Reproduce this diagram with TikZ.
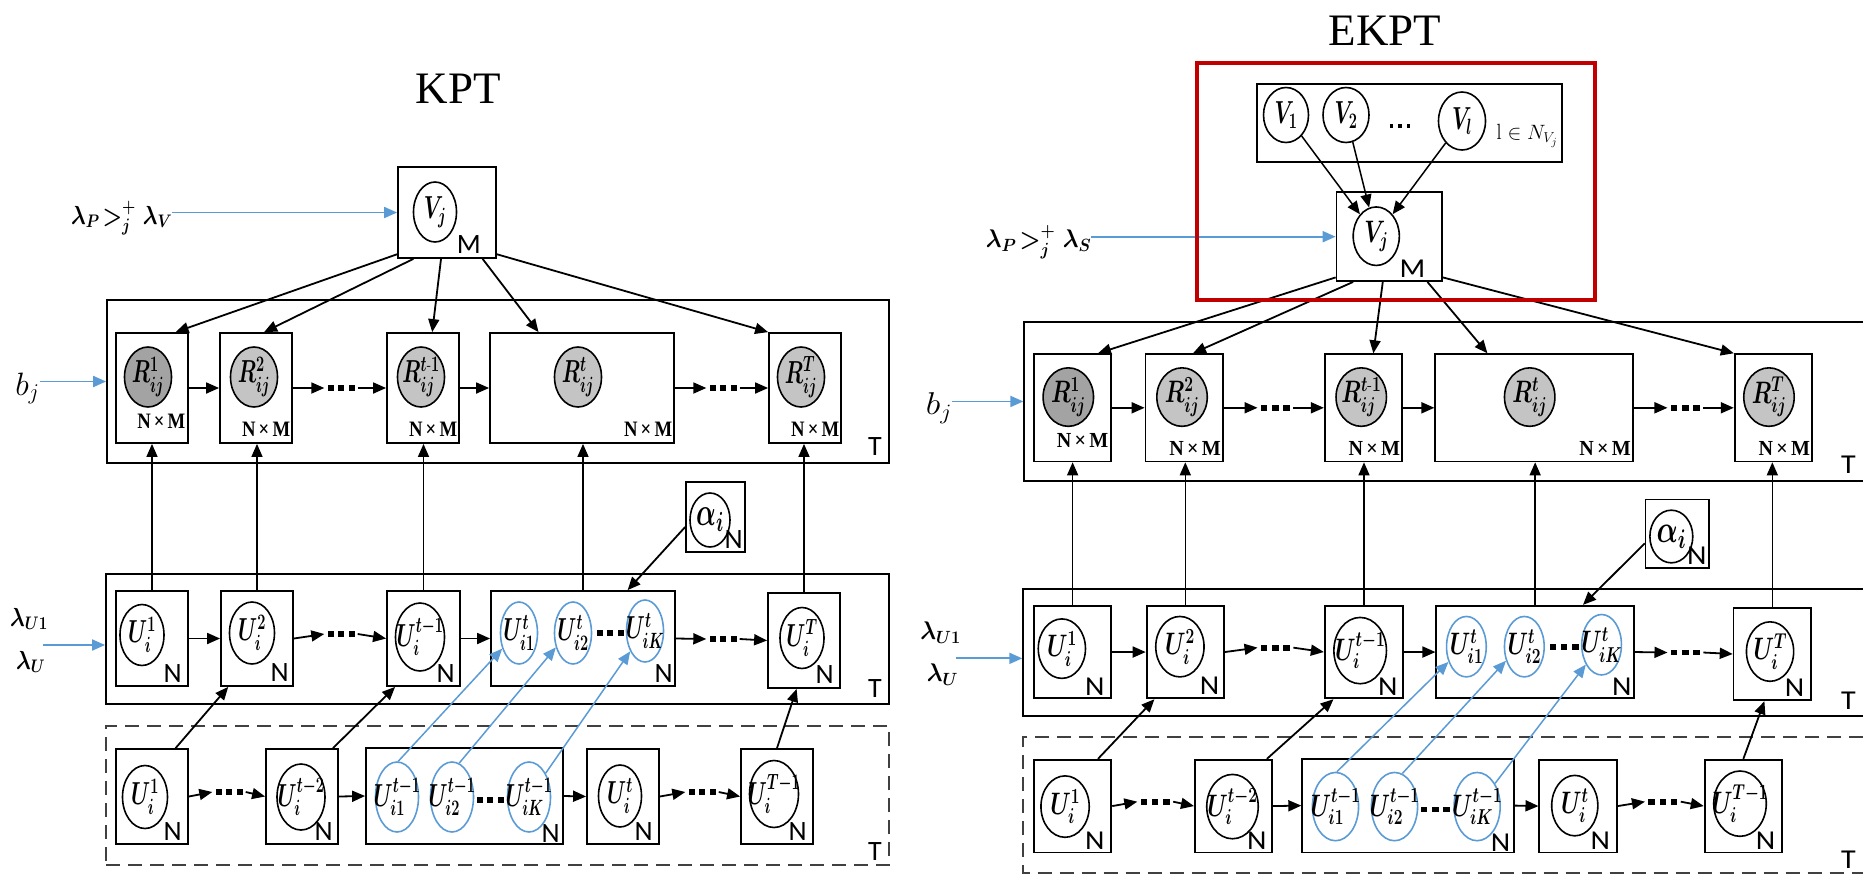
\documentclass[tikz,border=0pt]{standalone}
\usepackage{amsmath}
\usepackage{graphicx}
\usepackage{fontspec}
\usetikzlibrary{arrows.meta,shapes.geometric,calc}
\newfontfamily\lblfont{Carlito}
\newfontfamily\ttlfont{Liberation Serif}
\definecolor{myblue}{HTML}{5B9BD5}
\definecolor{mygrayA}{HTML}{A3A3A3}
\definecolor{mygrayB}{HTML}{C4C4C4}
\definecolor{myred}{HTML}{C00000}
\definecolor{dashgray}{HTML}{404040}
\newcommand\sqd{\rule{6pt}{6pt}}
\newcommand\dotrow{\sqd\hspace{4.5pt}\sqd\hspace{4.5pt}\sqd}
\newcommand\rdot{\rule{3.5pt}{3.5pt}}
\newcommand\thindots{\rdot\hspace{5pt}\rdot\hspace{5pt}\rdot}
\tikzset{
  box/.style={draw, line width=1.8pt, inner sep=0pt},
  ev/.style={ellipse, draw, line width=1.6pt, inner sep=0pt},
  bev/.style={ev, draw=myblue},
  gevA/.style={ev, fill=mygrayA},
  gevB/.style={ev, fill=mygrayB},
  tx/.style={inner sep=0pt, xscale=0.84, yscale=1.28, font=\fontsize{24}{26}\selectfont\boldmath},
  sl/.style={inner sep=0pt, font=\lblfont\fontsize{28}{30}\selectfont},
  nm/.style={inner sep=0pt, xscale=0.85, font=\ttlfont\bfseries\fontsize{22}{24}\selectfont},
  lam/.style={inner sep=0pt, xscale=0.88, yscale=1.05, font=\fontsize{24.5}{27}\selectfont\boldmath},
  bjl/.style={inner sep=0pt, scale=1.3, font=\fontsize{24}{26}\selectfont},
  dts/.style={inner sep=3pt},
  arr/.style={-{Triangle[length=13pt,width=11pt]}, line width=1.8pt},
  tarr/.style={-{Triangle[length=13pt,width=11pt]}, line width=1.4pt},
  barr/.style={-{Triangle[length=13pt,width=11pt]}, line width=1.9pt, draw=myblue},
  ttl/.style={inner sep=0pt, anchor=base, font=\ttlfont\fontsize{45}{48}\selectfont},
}
\newcommand\Bx[4]{\node[box, minimum width=#3pt, minimum height=#4pt] (#1) at (#2) {};}
\newcommand\Ev[6][ev]{\node[#1, minimum width=#4pt, minimum height=#5pt] (#2) at (#3) {};\node[tx] (#2-t) at (#2) {#6};}
\newcommand\Nl[3]{\node[sl, anchor=base east, xshift=#2pt, yshift=#3pt] (#1-N) at (#1.south east) {N};}
\newcommand\panel[1]{%
  % ---- V_j
  \Bx{Vjb}{447,212.5}{98}{91}
  \Ev{Vj}{435,212}{43}{60}{$V_j$}
  \node[sl, anchor=base east, xshift=-16pt, yshift=5pt] (Vjb-M) at (Vjb.south east) {M};
  \node[lam, anchor=base west] (lamV) at (71,224) {$\lambda_P\!>_j^{+}\lambda_{#1}$};
  \draw[barr] (lamV.east |- Vjb.west) -- (Vjb.west);
  % ---- R plate
  \Bx{Rp}{498,381.5}{782}{163}
  \node[sl, anchor=base east, xshift=-8pt, yshift=8pt] (Rp-T) at (Rp.south east) {T};
  \Bx{R1b}{152,388}{72}{110}
  \Bx{R2b}{256,388}{72}{110}
  \Bx{R3b}{423,388}{72}{110}
  \Bx{R4b}{582,388}{184}{110}
  \Bx{R5b}{805,388}{72}{110}
  \Ev[gevA]{R1}{148,377}{47}{60}{$R^1_{ij}$}
  \Ev[gevB]{R2}{254,377}{47}{60}{$R^2_{ij}$}
  \Ev[gevB]{R3}{421,377}{47}{60}{$R^{t\text{-}1}_{ij}$}
  \Ev[gevB]{R4}{578,377}{47}{60}{$R^{t}_{ij}$}
  \Ev[gevB]{R5}{801,377}{47}{60}{$R^{T}_{ij}$}
  \node[nm, anchor=base east, xshift=-4pt, yshift=15pt] (R1b-nm) at (R1b.south east) {N\,×\,M};
  \node[nm, anchor=base east, xshift=-3pt, yshift=7pt] (R2b-nm) at (R2b.south east) {N\,×\,M};
  \node[nm, anchor=base east, xshift=-3pt, yshift=7pt] (R3b-nm) at (R3b.south east) {N\,×\,M};
  \node[nm, anchor=base east, xshift=-3pt, yshift=7pt] (R4b-nm) at (R4b.south east) {N\,×\,M};
  \node[nm, anchor=base east, xshift=-3pt, yshift=7pt] (R5b-nm) at (R5b.south east) {N\,×\,M};
  \node[dts] (d1) at (341,388) {\dotrow};
  \node[dts] (d2) at (723,388) {\dotrow};
  \draw[arr] (R1b.east) -- (R2b.west);
  \draw[arr] (R2b.east) -- (d1.west);
  \draw[arr] (d1.east) -- (R3b.west);
  \draw[arr] (R3b.east) -- (R4b.west);
  \draw[arr] (R4b.east) -- (d2.west);
  \draw[arr] (d2.east) -- (R5b.west);
  \draw[arr] ($(Vjb.south west)!0.05!(Vjb.north west)$) -- ($(R1b.north west)!0.82!(R1b.north east)$);
  \draw[arr] ($(Vjb.south west)!0.163!(Vjb.south east)$) -- ($(R2b.north west)!0.61!(R2b.north east)$);
  \draw[arr] ($(Vjb.south west)!0.44!(Vjb.south east)$) -- ($(R3b.north west)!0.625!(R3b.north east)$);
  \draw[arr] ($(Vjb.south west)!0.857!(Vjb.south east)$) -- ($(R4b.north west)!0.266!(R4b.north east)$);
  \draw[arr] ($(Vjb.south east)!0.05!(Vjb.north east)$) -- (R5b.north west);
  \node[bjl, anchor=base west] (bj) at (15,395) {$b_j$};
  \draw[barr] (bj.east |- Rp.west) -- (Rp.west);
  % ---- alpha
  \Bx{ab}{715.5,517}{59}{70}
  \Ev{al}{710,520}{40}{54}{\scalebox{1.25}{$\alpha_i$}}
  \Nl{ab}{-3}{4}
  % ---- U plate
  \Bx{Up}{497.5,639}{783}{130}
  \node[sl, anchor=base east, xshift=-8pt, yshift=7pt] (Up-T) at (Up.south east) {T};
  \Bx{U1b}{152,638.5}{72}{95}
  \Bx{U2b}{257,638.5}{72}{95}
  \Bx{U3b}{423.5,638.5}{73}{95}
  \Bx{U4b}{583,638.5}{184}{95}
  \Bx{U5b}{804,640.5}{72}{95}
  \Ev{U1}{142,635}{44}{61}{$U^1_i$}
  \Ev{U2}{252,633}{45}{62}{$U^2_i$}
  \Ev{U3}{420,637}{49}{68}{$U^{t-1}_i$}
  \Ev[bev]{a1}{519,633}{37}{62}{$U^t_{i1}$}
  \Ev[bev]{a2}{573,633}{37}{62}{$U^t_{i2}$}
  \Ev[bev]{aK}{645,631}{37}{62}{$U^t_{iK}$}
  \node[dts] (d5) at (610,633) {\dotrow};
  \Ev{U5}{802,638}{44}{61}{$U^T_i$}
  \Nl{U1b}{-7}{4}
  \Nl{U2b}{-5}{5}
  \Nl{U3b}{-6}{4}
  \Nl{U4b}{-3}{4}
  \Nl{U5b}{-7}{5}
  \node[dts] (d3) at (341,634) {\dotrow};
  \node[dts] (d4) at (723,639) {\dotrow};
  \draw[arr] (U1b.east) -- (U2b.west);
  \draw[arr] (U2b.east) -- (d3.west);
  \draw[arr] (d3.east) -- (U3b.west);
  \draw[arr] (U3b.east) -- (U4b.west);
  \draw[arr] (U4b.east) -- (d4.west);
  \draw[arr] (d4.east) -- (U5b.west);
  \node[lam, anchor=base west] (lamU1) at (10,626) {$\lambda_{U1}$};
  \node[lam, anchor=base west] (lamU) at (16,669) {$\lambda_{U}$};
  \coordinate (lamUa) at (43,645);
  \draw[barr] (lamUa) -- (lamUa -| Up.west);
  \draw[tarr] (U1b.north) -- (U1b.north |- R1b.south);
  \draw[tarr] (U2b.north) -- (U2b.north |- R2b.south);
  \draw[tarr] (U3b.north) -- (U3b.north |- R3b.south);
  \draw[tarr] (U4b.north) -- (U4b.north |- R4b.south);
  \draw[tarr] (U5b.north) -- (U5b.north |- R5b.south);
  \draw[arr] ($(ab.north west)!0.64!(ab.south west)$) -- ($(U4b.north west)!0.74!(U4b.north east)$);
  % ---- dashed plate
  \node[draw=dashgray, line width=1.8pt, inner sep=0pt, dash pattern=on 14pt off 8pt, minimum width=783pt, minimum height=139pt] (Dp) at (497.5,795.5) {};
  \node[sl, anchor=base east, xshift=-8pt, yshift=5pt] (Dp-T) at (Dp.south east) {T};
  \Bx{B1b}{152,796.5}{72}{95}
  \Bx{B2b}{302,796.5}{72}{95}
  \Bx{B3b}{464.5,796}{197}{96}
  \Bx{B4b}{623,796.5}{72}{95}
  \Bx{B5b}{777,796.5}{72}{95}
  \Ev{B1}{145,797}{45}{63}{$U^1_i$}
  \Ev{B2}{301,797}{48}{66}{$U^{t-2}_i$}
  \Ev[bev]{b1}{397,797}{43}{70}{$U^{t-1}_{i1}$}
  \Ev[bev]{b2}{452,797}{43}{70}{$U^{t-1}_{i2}$}
  \Ev[bev]{bK}{529,797}{43}{70}{$U^{t-1}_{iK}$}
  \node[dts] (d8) at (490,800) {\dotrow};
  \Ev{B4}{620,796}{43}{62}{$U^t_i$}
  \Ev{B5}{774,794}{49}{67}{$U^{T-1}_i$}
  \Nl{B1b}{-7}{4}
  \Nl{B2b}{-6}{4}
  \Nl{B3b}{-4}{2}
  \Nl{B4b}{-7}{4}
  \Nl{B5b}{-7}{4}
  \node[dts] (d6) at (229,792) {\dotrow};
  \node[dts] (d7) at (702,792) {\dotrow};
  \draw[arr] (B1b.east) -- (d6.west);
  \draw[arr] (d6.east) -- (B2b.west);
  \draw[arr] (B2b.east) -- (B3b.west);
  \draw[arr] (B3b.east) -- (B4b.west);
  \draw[arr] (B4b.east) -- (d7.west);
  \draw[arr] (d7.east) -- (B5b.west);
  \draw[arr] ($(B1b.north west)!0.82!(B1b.north east)$) -- ($(U2b.south west)!0.11!(U2b.south east)$);
  \draw[arr] ($(B2b.north west)!0.92!(B2b.north east)$) -- ($(U3b.south west)!0.12!(U3b.south east)$);
  \draw[arr] (B5b.north) -- ($(U5b.south west)!0.4!(U5b.south east)$);
  \draw[barr, line width=1.5pt] (b1.88) -- (a1.223);
  \draw[barr, line width=1.5pt] (b2.78) -- (a2.220);
  \draw[barr, line width=1.5pt] (bK.55) -- (aK.234);
}
\begin{document}
\begin{tikzpicture}[x=1pt, y=-1pt]
\useasboundingbox (0,0) rectangle (1863,873);
% titles
\node[ttl] (kpt) at (458.5,103) {KPT};
\node[ttl] (ekpt) at (1385,45) {EKPT};
% KPT panel
\panel{V}
% EKPT panel
\begin{scope}[shift={(909.5,29.5)}, xscale=1.073, yscale=0.975, transform shape, name prefix=E-]
\panel{S}
\end{scope}
% EKPT neighbourhood block
\node[draw=myred, line width=3.5pt, inner sep=0pt, minimum width=398pt, minimum height=237pt] (red) at (1396,181.5) {};
\Bx{Vp}{1409.5,123}{305}{78}
\Ev{V1}{1286,115}{45}{55}{$V_1$}
\Ev{V2}{1346,115}{46}{55}{$V_2$}
\Ev{Vl}{1462,121}{47}{58}{$V_l$}
\node[inner sep=0pt] (Vdots) at (1400,126) {\thindots};
\node[inner sep=0pt, font=\fontsize{22}{24}\selectfont] (Vlab) at (1527,136) {$\mathrm{l}\in N_{V_j}$};
\draw[arr, line width=1.5pt] (V1) -- (E-Vj);
\draw[arr, line width=1.5pt] (V2) -- (E-Vj);
\draw[arr, line width=1.5pt] (Vl) -- (E-Vj);
\end{tikzpicture}
\end{document}
